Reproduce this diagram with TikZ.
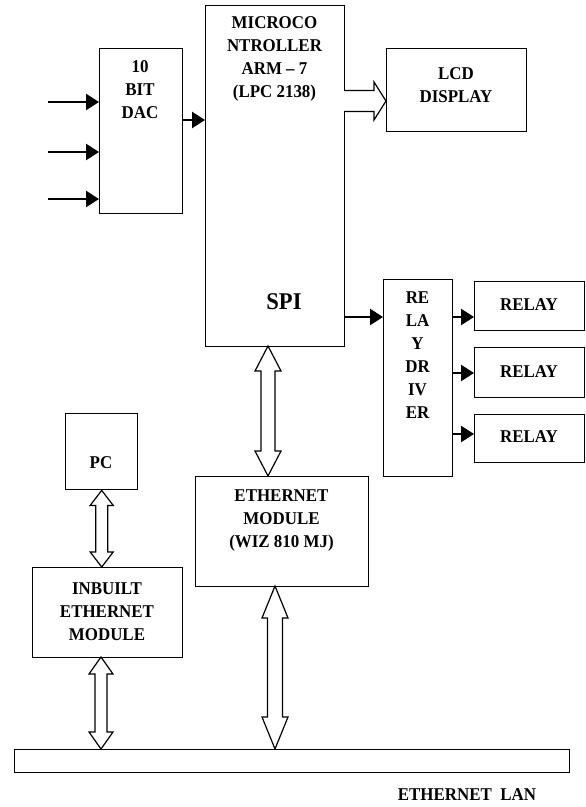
\documentclass[tikz,border=0pt]{standalone}
\usepackage{fontspec}
\setmainfont{Liberation Serif}
\usetikzlibrary{arrows.meta,calc}
\tikzset{
  box/.style={draw,line width=1.4bp,rectangle,anchor=north west,inner sep=0pt},
  lbl/.style={font=\bfseries\fontsize{18bp}{23bp}\selectfont,align=center,inner sep=0pt,xscale=0.94},
  solidarrow/.style={line width=2.5bp,-{Triangle[length=13bp,width=16bp]}},
  hollow/.style={draw,line width=1.2bp,fill=white,line join=miter},
}
\newcommand\boxat[5]{\node[box,minimum width=#4bp-#2bp,minimum height=#5bp-#3bp] (#1) at (#2,#3) {};}
% vertical hollow double arrow: #1 top point, #2 bottom point, #3 half shaft, #4 half head, #5 head length
\newcommand\vdbl[5]{\draw[hollow] let \p1=(#1), \p2=(#2) in
  (\x1,\y1) -- (\x1+#4,\y1-#5) -- (\x1+#3,\y1-#5) -- (\x1+#3,\y2+#5) -- (\x1+#4,\y2+#5) -- (\x1,\y2)
  -- (\x1-#4,\y2+#5) -- (\x1-#3,\y2+#5) -- (\x1-#3,\y1-#5) -- (\x1-#4,\y1-#5) -- cycle;}
\begin{document}
\begin{tikzpicture}[x=1bp,y=-1bp]
\useasboundingbox (0,0) rectangle (586,807);
% boxes
\boxat{dac}{99}{48}{182}{213}
\boxat{mcu}{205}{5}{344}{346}
\boxat{lcd}{386}{48}{526}{131}
\boxat{drv}{383}{279}{452}{476}
\boxat{ra}{474}{281}{584}{330}
\boxat{rb}{474}{347}{584}{397}
\boxat{rc}{474}{414}{584}{462}
\boxat{pc}{65}{413}{137}{489}
\boxat{inb}{32}{567}{182}{657}
\boxat{eth}{195}{476}{368}{586}
\boxat{bus}{14}{749}{569}{772}
% texts
\node[lbl,anchor=north] (tdac) at (140,60) {10\\BIT\\DAC};
\node[lbl,anchor=north] (tmcu) at (274.5,16) {MICROCO\\NTROLLER\\ARM -- 7\\(LPC 2138)};
\node[lbl] (tspi) at (284,302) {\fontsize{24bp}{26bp}\selectfont SPI};
\node[lbl] (tlcd) at (456,85) {LCD\\DISPLAY};
\node[lbl,anchor=north] (tdrv) at (417.5,292) {RE\\LA\\Y\\DR\\IV\\ER};
\node[lbl] (tra) at (529,305) {RELAY};
\node[lbl] (trb) at (529,372) {RELAY};
\node[lbl] (trc) at (529,437) {RELAY};
\node[lbl] (tpc) at (101,463) {PC};
\node[lbl] (tinb) at (107,612) {INBUILT\\ETHERNET\\MODULE};
\node[lbl] (teth) at (281.5,521) {ETHERNET\\MODULE\\(WIZ 810 MJ)};
\node[lbl] (tlan) at (467,795) {ETHERNET\enspace LAN};
% input arrows
\coordinate (in1) at (48,102);
\coordinate (in2) at (48,152);
\coordinate (in3) at (48,199);
\draw[solidarrow] (in1) -- (in1 -| dac.west);
\draw[solidarrow] (in2) -- (in2 -| dac.west);
\draw[solidarrow] (in3) -- (in3 -| dac.west);
% DAC -> MCU
\coordinate (d1) at (182,120);
\draw[solidarrow] (d1) -- (d1 -| mcu.west);
% SPI -> driver
\coordinate (s1) at (344,317);
\draw[solidarrow] (s1) -- (s1 -| drv.west);
% driver -> relays
\coordinate (q1) at (452,317);
\coordinate (q2) at (452,373);
\coordinate (q3) at (452,434);
\draw[solidarrow] (q1) -- (q1 -| ra.west);
\draw[solidarrow] (q2) -- (q2 -| rb.west);
\draw[solidarrow] (q3) -- (q3 -| rc.west);
% MCU -> LCD hollow arrow
\coordinate (h1) at (344,101);
\draw[hollow] let \p1=(h1), \p2=(h1 -| lcd.west) in
  (\x1,\y1+10.5bp) -- (\x2-12bp,\y1+10.5bp) -- (\x2-12bp,\y1+19bp) -- (\x2,\y1)
  -- (\x2-12bp,\y1-19bp) -- (\x2-12bp,\y1-10.5bp) -- (\x1,\y1-10.5bp);
% vertical hollow double arrows
\coordinate (v1) at (268,346);
\vdbl{v1}{v1 |- eth.north}{7bp}{13bp}{25bp}
\coordinate (v2) at (275,586);
\vdbl{v2}{v2 |- bus.north}{7.5bp}{13bp}{32bp}
\vdbl{pc.south}{pc.south |- inb.north}{6bp}{11.5bp}{15bp}
\coordinate (v4) at (101,657);
\vdbl{v4}{v4 |- bus.north}{6bp}{12bp}{17bp}
\end{tikzpicture}
\end{document}
